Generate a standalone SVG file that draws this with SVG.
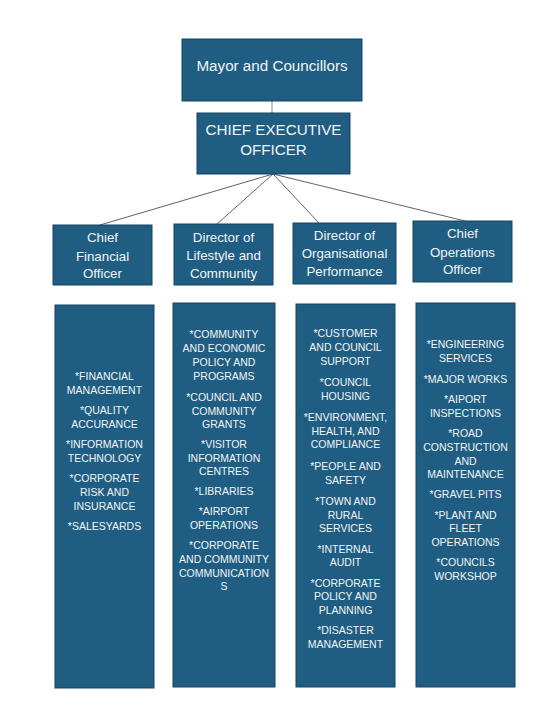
<svg xmlns="http://www.w3.org/2000/svg" width="558" height="706" viewBox="0 0 558 706">
<style>
.box{fill:#1f5e82;stroke:#174460;stroke-width:1}
.t{font-family:"Liberation Sans",Arial,sans-serif;fill:#f2f4f6;text-anchor:middle}
.big{font-size:15.2px}
.mid{font-size:13.3px}
.sm{font-size:10.5px}
.ln{stroke:#3a3a3a;stroke-width:0.8;fill:none}
</style>
<rect width="558" height="706" fill="#ffffff"/>
<g id="connectors">
<line x1="272" y1="101" x2="272" y2="113" stroke="#6b8ea4" stroke-width="1"/>
<line class="ln" x1="273" y1="174" x2="100" y2="225"/>
<line class="ln" x1="273" y1="174" x2="217" y2="224"/>
<line class="ln" x1="273" y1="174" x2="319" y2="223"/>
<line class="ln" x1="273" y1="174" x2="465" y2="221"/>
</g>
<g id="mayor">
<rect class="box" x="182" y="39" width="180" height="62"/>
<text class="t big" x="272" y="71">Mayor and Councillors</text>
</g>
<g id="ceo">
<rect class="box" x="197" y="113" width="153" height="61"/>
<text class="t big" x="273.5" y="134.8">CHIEF EXECUTIVE</text>
<text class="t big" x="273.5" y="154.5">OFFICER</text>
</g>
<g id="cfo">
<rect class="box" x="53" y="225" width="99" height="60"/>
<text class="t mid" x="102.5" y="242">Chief</text>
<text class="t mid" x="102.5" y="260.5">Financial</text>
<text class="t mid" x="102.5" y="278">Officer</text>
</g>
<g id="dlc">
<rect class="box" x="174" y="224" width="99" height="61"/>
<text class="t mid" x="223.5" y="241.5">Director of</text>
<text class="t mid" x="223.5" y="259.5">Lifestyle and</text>
<text class="t mid" x="223.5" y="277.5">Community</text>
</g>
<g id="dop">
<rect class="box" x="293" y="223" width="103" height="61"/>
<text class="t mid" x="344.5" y="239.5">Director of</text>
<text class="t mid" x="344.5" y="258">Organisational</text>
<text class="t mid" x="344.5" y="276">Performance</text>
</g>
<g id="coo">
<rect class="box" x="413" y="221" width="99" height="61"/>
<text class="t mid" x="462.5" y="238">Chief</text>
<text class="t mid" x="462.5" y="256.5">Operations</text>
<text class="t mid" x="462.5" y="274">Officer</text>
</g>
<g id="cfo-list">
<rect class="box" x="55" y="305" width="99" height="383"/>
<text class="t sm" x="104.5" y="380">*FINANCIAL</text>
<text class="t sm" x="104.5" y="394">MANAGEMENT</text>
<text class="t sm" x="104.5" y="414">*QUALITY</text>
<text class="t sm" x="104.5" y="428">ACCURANCE</text>
<text class="t sm" x="104.5" y="448">*INFORMATION</text>
<text class="t sm" x="104.5" y="462">TECHNOLOGY</text>
<text class="t sm" x="104.5" y="482">*CORPORATE</text>
<text class="t sm" x="104.5" y="496">RISK AND</text>
<text class="t sm" x="104.5" y="510">INSURANCE</text>
<text class="t sm" x="104.5" y="530">*SALESYARDS</text>
</g>
<g id="dlc-list">
<rect class="box" x="173" y="303" width="102" height="384"/>
<text class="t sm" x="224" y="338">*COMMUNITY</text>
<text class="t sm" x="224" y="352">AND ECONOMIC</text>
<text class="t sm" x="224" y="366">POLICY AND</text>
<text class="t sm" x="224" y="380">PROGRAMS</text>
<text class="t sm" x="224" y="401">*COUNCIL AND</text>
<text class="t sm" x="224" y="414.5">COMMUNITY</text>
<text class="t sm" x="224" y="428">GRANTS</text>
<text class="t sm" x="224" y="448">*VISITOR</text>
<text class="t sm" x="224" y="461.5">INFORMATION</text>
<text class="t sm" x="224" y="475">CENTRES</text>
<text class="t sm" x="224" y="495">*LIBRARIES</text>
<text class="t sm" x="224" y="515">*AIRPORT</text>
<text class="t sm" x="224" y="529">OPERATIONS</text>
<text class="t sm" x="224" y="549">*CORPORATE</text>
<text class="t sm" x="224" y="563">AND COMMUNITY</text>
<text class="t sm" x="224" y="576.5">COMMUNICATION</text>
<text class="t sm" x="224" y="590">S</text>
</g>
<g id="dop-list">
<rect class="box" x="296" y="304" width="99" height="383"/>
<text class="t sm" x="345.5" y="337">*CUSTOMER</text>
<text class="t sm" x="345.5" y="351">AND COUNCIL</text>
<text class="t sm" x="345.5" y="365">SUPPORT</text>
<text class="t sm" x="345.5" y="386">*COUNCIL</text>
<text class="t sm" x="345.5" y="399.5">HOUSING</text>
<text class="t sm" x="345.5" y="421">*ENVIRONMENT,</text>
<text class="t sm" x="345.5" y="434.5">HEALTH, AND</text>
<text class="t sm" x="345.5" y="448">COMPLIANCE</text>
<text class="t sm" x="345.5" y="470">*PEOPLE AND</text>
<text class="t sm" x="345.5" y="483.5">SAFETY</text>
<text class="t sm" x="345.5" y="505">*TOWN AND</text>
<text class="t sm" x="345.5" y="519">RURAL</text>
<text class="t sm" x="345.5" y="532">SERVICES</text>
<text class="t sm" x="345.5" y="553">*INTERNAL</text>
<text class="t sm" x="345.5" y="566">AUDIT</text>
<text class="t sm" x="345.5" y="587">*CORPORATE</text>
<text class="t sm" x="345.5" y="600">POLICY AND</text>
<text class="t sm" x="345.5" y="614">PLANNING</text>
<text class="t sm" x="345.5" y="634">*DISASTER</text>
<text class="t sm" x="345.5" y="648">MANAGEMENT</text>
</g>
<g id="coo-list">
<rect class="box" x="416" y="303" width="99" height="384"/>
<text class="t sm" x="465.5" y="348">*ENGINEERING</text>
<text class="t sm" x="465.5" y="362">SERVICES</text>
<text class="t sm" x="465.5" y="383">*MAJOR WORKS</text>
<text class="t sm" x="465.5" y="403">*AIPORT</text>
<text class="t sm" x="465.5" y="417">INSPECTIONS</text>
<text class="t sm" x="465.5" y="437">*ROAD</text>
<text class="t sm" x="465.5" y="451">CONSTRUCTION</text>
<text class="t sm" x="465.5" y="465">AND</text>
<text class="t sm" x="465.5" y="478">MAINTENANCE</text>
<text class="t sm" x="465.5" y="498">*GRAVEL PITS</text>
<text class="t sm" x="465.5" y="519">*PLANT AND</text>
<text class="t sm" x="465.5" y="532">FLEET</text>
<text class="t sm" x="465.5" y="546">OPERATIONS</text>
<text class="t sm" x="465.5" y="566">*COUNCILS</text>
<text class="t sm" x="465.5" y="580">WORKSHOP</text>
</g>
</svg>
